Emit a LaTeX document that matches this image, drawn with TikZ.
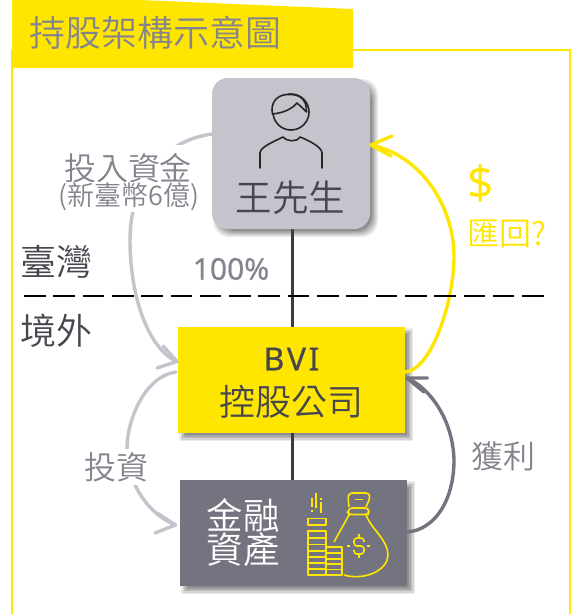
\documentclass[tikz,border=0pt]{standalone}
\usepackage{fontspec}
\setmainfont{Noto Sans CJK TC DemiLight}
\newfontfamily\latinf[FakeBold=0.5]{Noto Sans}
\newfontfamily\latinl{Noto Sans}
\usetikzlibrary{calc}
\definecolor{eyellow}{HTML}{FFE600}
\definecolor{egray}{HTML}{747480}
\definecolor{elight}{HTML}{C4C4CD}
\definecolor{edark}{HTML}{46464F}
\definecolor{etext}{HTML}{84848E}
\tikzset{
  x=1pt,y=-1pt,
  txt/.style={inner sep=0pt,align=center,font=\fontsize{#1}{#1}\selectfont},
  glabel/.style={txt=32,text=etext},
  dlabel/.style={txt=36,text=edark},
  curve/.style={line width=3.4pt,line cap=round},
  openhead/.style={line width=3.4pt,line cap=round,line join=round},
  iconline/.style={draw=eyellow,line width=1.6pt,line join=round},
  person/.style={draw=black!85,line width=1.6pt,line cap=round,line join=round},
}
\newcommand{\softshadow}[5]{%
  \foreach \s/\o in {0/0.08,1.5/0.10,3/0.10,4.5/0.12,6/0.14}{%
    \fill[black,opacity=\o,rounded corners=#5]
      ({#1+\s+1},{#2+\s+1}) rectangle ({#3+8-\s},{#4+8-\s});}}
\begin{document}
\begin{tikzpicture}
\useasboundingbox (0,0) rectangle (573,614);
\fill[white] (0,0) rectangle (573,614);
% frame
\draw[eyellow,line width=2pt] (12,614) -- (12,50) -- (570,50) -- (570,614);
\fill[eyellow] (12,68) -- (12,0) -- (140,0) -- (353,9) -- (353,68) -- cycle;
\node[txt=36,text=etext,anchor=center] (title) at (156,33) {持股架構示意圖};

% boxes
\softshadow{212}{78}{370}{229}{16}
\softshadow{178}{327}{405}{433}{0}
\softshadow{180}{480}{407}{586}{0}
\draw[edark!85!black,line width=2.5pt] (292.5,225) -- (292.5,484);
\node[fill=elight,rounded corners=16,minimum width=158,minimum height=151,inner sep=0pt] (wang) at (291,153.5) {};
\node[fill=eyellow,minimum width=227,minimum height=106,inner sep=0pt] (bvi) at (291.5,380) {};
\node[fill=egray,minimum width=227,minimum height=106,inner sep=0pt] (asset) at (293.5,533) {};

% named connection points
\coordinate (wangL) at (212,134);
\coordinate (wangR) at (371,145);
\coordinate (bviL1) at (177,361.5);
\coordinate (bviL2) at (176,372);
\coordinate (bviR1) at (405,372);
\coordinate (bviR2) at (407,378);
\coordinate (assetL) at (175.5,525);
\coordinate (assetR) at (407,532);

% connectors
\draw[elight,curve] (wangL) .. controls (160,141) and (130,185) .. (130,240)
   .. controls (130,300) and (150,350) .. (bviL1);
\draw[elight,openhead] (157,368) -- (bviL1) -- (163,346);
\draw[elight,curve] (bviL2) .. controls (145,376) and (127,420) .. (127,448)
   .. controls (127,485) and (150,515) .. (assetL);
\draw[elight,openhead] (155,533) -- (assetL) -- (157,513);
\draw[eyellow,curve] (bviR1) .. controls (432,370) and (454,300) .. (454,257)
   .. controls (454,205) and (420,155) .. (wangR);
\draw[eyellow,openhead] (392,136) -- (wangR) -- (391,156);
\draw[egray,curve] (assetR) .. controls (435,530) and (454,500) .. (454,460)
   .. controls (453,420) and (430,388) .. (bviR2);
\draw[egray,openhead] (427.5,378) -- (bviR2) -- (424,392);

% dashed border
\draw[black,line width=2.6pt,dash pattern=on 21.6pt off 7.7pt] (24,296) coordinate (dashL) -- (545,296) coordinate (dashR);

% labels
\node[glabel,fill=white,inner ysep=8pt] (invest) at (128,168) {投入資金};
\node[txt=27,text=etext,fill=white,inner ysep=1pt] (twd) at (129,197) {(新臺幣6億)};
\node[glabel,fill=white,inner sep=3pt] (inv2) at (116,467) {投資};
\node[glabel] (gain) at (503,456) {獲利};
\node[dlabel] (tw) at (56,262) {臺灣};
\node[dlabel] (os) at (56,331) {境外};
\node[txt=30,text=etext,font=\latinf\fontsize{30}{30}\selectfont] (pct) at (231,269) {100\%};
\node[txt=36.5,text=edark] (wname) at (290.5,198) {王先生};
\node[txt=32,text=edark,font=\latinf\fontsize{32}{32}\selectfont] (bvin) at (291.5,359) {B\kern2.5pt V\kern2.5pt I};
\node[txt=36,text=edark] (ctrl) at (291,402) {控股公司};
\node[txt=36.5,text=white] (j1) at (243,515) {金融};
\node[txt=36.5,text=white] (j2) at (243,549.5) {資產};
\node[txt=46,text=eyellow,font=\latinl\fontsize{46}{46}\selectfont] (dollar) at (481,183) {\$};
\node[txt=32,text=eyellow] (remit) at (507,234) {匯回?};

% person icon
\draw[person] (291,112) circle (18);
\draw[person,fill=elight] (272.5,114) .. controls (270,103) and (277,94) .. (289,94.5)
  .. controls (299,94) and (307,99) .. (306.5,112)
  .. controls (303,108) and (300,106) .. (297,103)
  .. controls (291,110) and (282,113) .. (272.5,114) -- cycle;
\draw[person] (260,168) -- (260,153) .. controls (260,147) and (275,141) .. (283,137)
  .. controls (286,141) and (296,143) .. (300,137)
  .. controls (308,140) and (322,147) .. (322,153) -- (322,168);

% money icon
\begin{scope}[iconline]
\draw (308,518.5) rectangle (326,525);
\draw (308,531) rectangle (326,575);
\draw (326,547) rectangle (342,575);
\foreach \y in {538,544.5,551,557,563,569}{\draw (308,\y) -- (326,\y);}
\foreach \y in {553,559,564,569.5}{\draw (326,\y) -- (342,\y);}
\draw (312,498) -- (312,507); \draw (312,510) -- (312,512);
\draw (316,493) -- (316,508);
\draw (321,502) -- (321,513); \draw (321,498) -- (321,499.5);
\draw[rounded corners=3] (349,507) -- (348,498) -- (349,493) -- (369,493) -- (370,498) -- (366,507);
\draw[rounded corners=3] (349,508) -- (348,513) -- (349,514.5) -- (368,514.5) -- (369,512) -- (368,508) -- cycle;
\draw (355,499.5) -- (363,499.5);
\draw (349,515) -- (334,542);
\draw (366,515) .. controls (372,530) and (388,540) .. (388,555)
  .. controls (388,570) and (365,581) .. (344,575);
\draw[rounded corners=3] (364,542) -- (364,538) -- (354,538) -- (354,546) -- (364,546) -- (364,554) -- (354,554) -- (354,550);
\draw (359,534) -- (359,538); \draw (359,554) -- (359,558);
\draw (347,546) -- (350,546); \draw (367,546) -- (370,546);
\end{scope}
\end{tikzpicture}
\end{document}
